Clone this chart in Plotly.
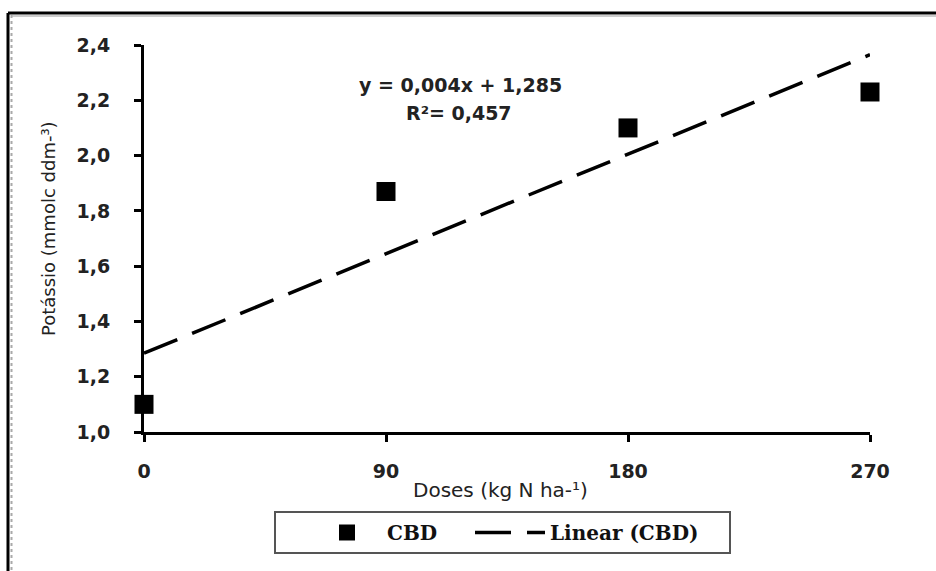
import plotly.graph_objects as go

# Potassium content by nitrogen dose
doses = [0, 90, 180, 270]
potassio = [1.10, 1.87, 2.10, 2.23]

# Fitted linear trend
slope = 0.004
intercept = 1.285
r2 = 0.457
trend_x = [0, 270]
trend_y = [slope * x + intercept for x in trend_x]

x_ticks = [0, 90, 180, 270]
y_ticks = [1.0, 1.2, 1.4, 1.6, 1.8, 2.0, 2.2, 2.4]
y_tick_text = [f"{v:.1f}".replace(".", ",") for v in y_ticks]

SANS = "DejaVu Sans, sans-serif"
tick_font = dict(family=SANS, size=19, color="#222222", weight="bold")
legend_font = dict(family="DejaVu Serif, serif", size=20, color="#111111", weight="bold")

# plot area in pixels: x 144..870, y 45..432
L, R, T, B = 144, 870, 45, 432
W, H = R - L, B - T


def px(x):
    return (x - L) / W


def py(y):
    return (B - y) / H


fig = go.Figure()
fig.add_trace(go.Scatter(
    x=doses, y=potassio, mode="markers", name="CBD",
    marker=dict(symbol="square", size=19, color="black"),
    cliponaxis=False, legend="legend",
))
fig.add_trace(go.Scatter(
    x=trend_x, y=trend_y, mode="lines", name="Linear (CBD)",
    line=dict(color="black", width=3.5, dash="36px,16px"),
    cliponaxis=False, legend="legend2",
))

legend_common = dict(
    orientation="h", xanchor="left", yanchor="top",
    borderwidth=0, bgcolor="rgba(0,0,0,0)",
    font=legend_font, itemwidth=70,
)

fig.update_layout(
    width=936, height=571,
    margin=dict(l=L, r=936 - R, t=T, b=571 - B),
    paper_bgcolor="white", plot_bgcolor="white",
    showlegend=True,
    legend=dict(x=px(307), y=py(513), **legend_common),
    legend2=dict(x=px(470), y=py(513), **legend_common),
    xaxis=dict(
        range=[0, 270], tickvals=x_ticks, showgrid=False, zeroline=False,
        showline=True, linecolor="black", linewidth=3,
        ticks="outside", ticklen=7, tickwidth=3, tickcolor="black",
        tickfont=tick_font, ticklabelstandoff=13,
    ),
    yaxis=dict(
        range=[1.0, 2.4], tickvals=y_ticks, ticktext=y_tick_text,
        showgrid=False, zeroline=False,
        showline=True, linecolor="black", linewidth=3,
        ticks="outside", ticklen=7, tickwidth=3, tickcolor="black",
        tickfont=tick_font, ticklabelstandoff=20,
    ),
    annotations=[
        dict(text="Potássio (mmolc ddm-³)", xref="paper", yref="paper",
             x=px(48), y=py(229), textangle=-90,
             showarrow=False, xanchor="center", yanchor="middle",
             font=dict(family=SANS, size=18, color="#222222")),
        dict(text="Doses (kg N ha-¹)", xref="paper", yref="paper",
             x=px(500), y=py(490),
             showarrow=False, xanchor="center", yanchor="middle",
             font=dict(family=SANS, size=20, color="#222222")),
        dict(text=f"y = {slope:.3f}x + {intercept:.3f}".replace(".", ","),
             xref="paper", yref="paper", x=px(460), y=py(85),
             showarrow=False, xanchor="center", yanchor="middle",
             font=tick_font),
        dict(text=f"R²= {r2:.3f}".replace(".", ","),
             xref="paper", yref="paper", x=px(459), y=py(113),
             showarrow=False, xanchor="center", yanchor="middle",
             font=tick_font),
    ],
    shapes=[
        # outer frame: top and left edges
        dict(type="line", xref="paper", yref="paper",
             x0=px(8), x1=px(940), y0=py(13), y1=py(13),
             line=dict(color="black", width=3)),
        dict(type="line", xref="paper", yref="paper",
             x0=px(11), x1=px(940), y0=py(16), y1=py(16),
             line=dict(color="#cccccc", width=2)),
        dict(type="line", xref="paper", yref="paper",
             x0=px(8), x1=px(8), y0=py(13), y1=py(575),
             line=dict(color="black", width=3)),
        dict(type="line", xref="paper", yref="paper",
             x0=px(11.5), x1=px(11.5), y0=py(15), y1=py(575),
             line=dict(color="#aaaaaa", width=2, dash="dot")),
        # legend frame
        dict(type="rect", xref="paper", yref="paper",
             x0=px(275), x1=px(730), y0=py(512), y1=py(553),
             line=dict(color="#555555", width=2)),
    ],
)

fig.write_html("out.html")
